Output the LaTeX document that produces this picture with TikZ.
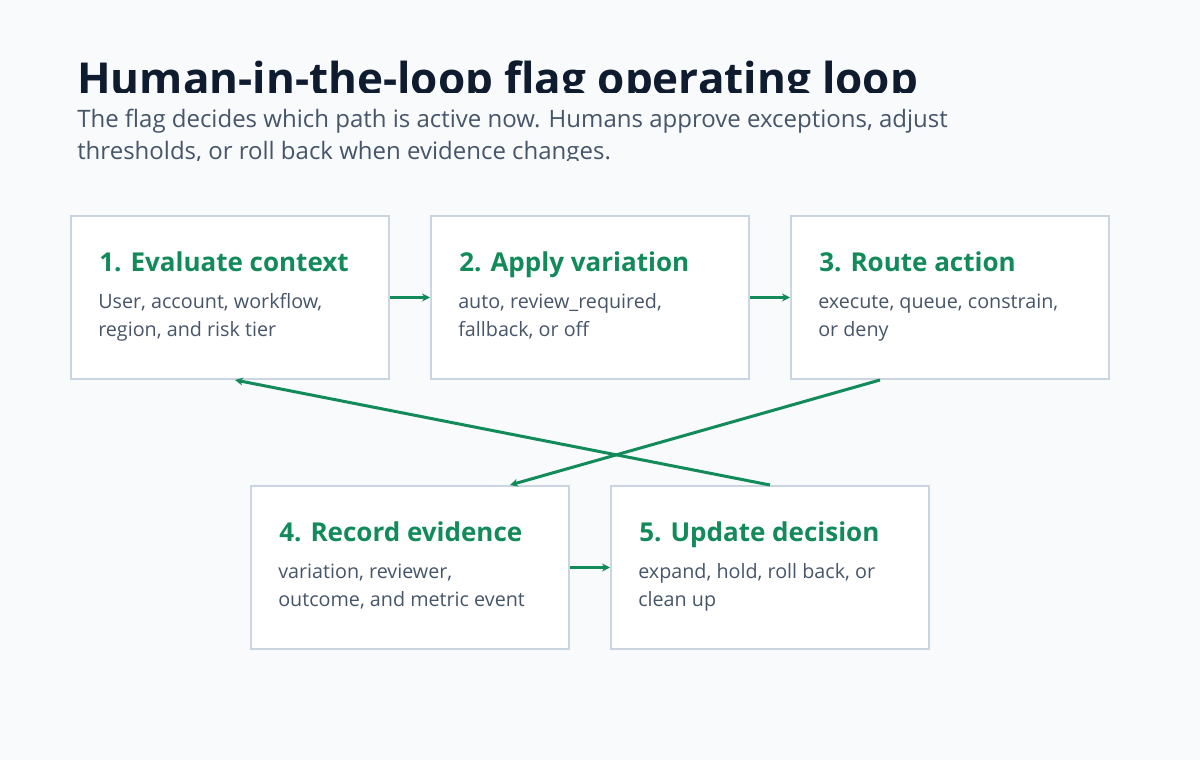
\documentclass[tikz,border=0pt]{standalone}
\usepackage{fontspec}
\setmainfont{Open Sans}
\usetikzlibrary{arrows.meta,positioning,calc}

\definecolor{pagebg}{HTML}{F8FAFC}
\definecolor{inkdark}{HTML}{0F1B2E}
\definecolor{inkmuted}{HTML}{475569}
\definecolor{cardline}{HTML}{CBD5E1}
\definecolor{flaggreen}{HTML}{138A5A}

\begin{document}
\begin{tikzpicture}[
    x=0.75pt, y=-0.75pt,
    card/.style={draw=cardline, fill=white, line width=1.5pt, minimum width=238.5pt, minimum height=122.25pt, inner sep=0pt},
    cardhead/.style={anchor=base west, inner sep=0pt, text=flaggreen, font=\fontsize{19.5}{24}\selectfont\bfseries},
    cardbody/.style={anchor=base west, inner sep=0pt, align=left, text=inkmuted, font=\fontsize{14.8}{21}\selectfont},
    flow/.style={-{Stealth[length=6pt, width=6pt]}, line width=2.25pt, draw=flaggreen},
]
    % page
    \fill[pagebg] (0,0) rectangle (1200,760);
    \useasboundingbox (0,0) rectangle (1200,760);

    % title and subtitle, cut off at the bottom as in the source
    \begin{scope}
        \clip (0,0) rectangle (1200,92);
        \node[anchor=base west, inner sep=0pt, text=inkdark, font=\fontsize{33}{40}\selectfont\bfseries] (title) at (77,94) {Human-in-the-loop flag operating loop};
    \end{scope}
    \begin{scope}
        \clip (0,92) rectangle (1200,160);
        \node[anchor=base west, inner sep=0pt, align=left, text=inkmuted, font=\fontsize{18}{24}\selectfont] (subtitle) at (77,159) {The flag decides which path is active now. Humans approve exceptions, adjust\\thresholds, or roll back when evidence changes.};
    \end{scope}

    % cards
    \node[card] (evaluate) at (230,297.5) {};
    \node[card] (apply) at (590,297.5) {};
    \node[card] (route) at (950,297.5) {};
    \node[card] (record) at (410,567.5) {};
    \node[card] (update) at (770,567.5) {};

    \node[cardhead] (evaluate-h) at ($(evaluate.north west)+(29,56)$) {1. Evaluate context};
    \node[cardbody] (evaluate-b) at ($(evaluate.north west)+(28,121)$) {User, account, workflow,\\region, and risk tier};
    \node[cardhead] (apply-h) at ($(apply.north west)+(29,56)$) {2. Apply variation};
    \node[cardbody] (apply-b) at ($(apply.north west)+(28,121)$) {auto, review\_required,\\fallback, or off};
    \node[cardhead] (route-h) at ($(route.north west)+(29,56)$) {3. Route action};
    \node[cardbody] (route-b) at ($(route.north west)+(28,121)$) {execute, queue, constrain,\\or deny};
    \node[cardhead] (record-h) at ($(record.north west)+(29,56)$) {4. Record evidence};
    \node[cardbody] (record-b) at ($(record.north west)+(28,121)$) {variation, reviewer,\\outcome, and metric event};
    \node[cardhead] (update-h) at ($(update.north west)+(29,56)$) {5. Update decision};
    \node[cardbody] (update-b) at ($(update.north west)+(28,121)$) {expand, hold, roll back, or\\clean up};

    % connectors
    \draw[flow] (evaluate) -- (apply);
    \draw[flow] (apply) -- (route);
    \draw[flow] (record) -- (update);
    \draw[flow] ($(route.south west)+(90,0)$) -- ($(record.north east)+(-60,0)$);
    \draw[flow] (update.north) -- ($(evaluate.south)+(5,0)$);
\end{tikzpicture}
\end{document}
